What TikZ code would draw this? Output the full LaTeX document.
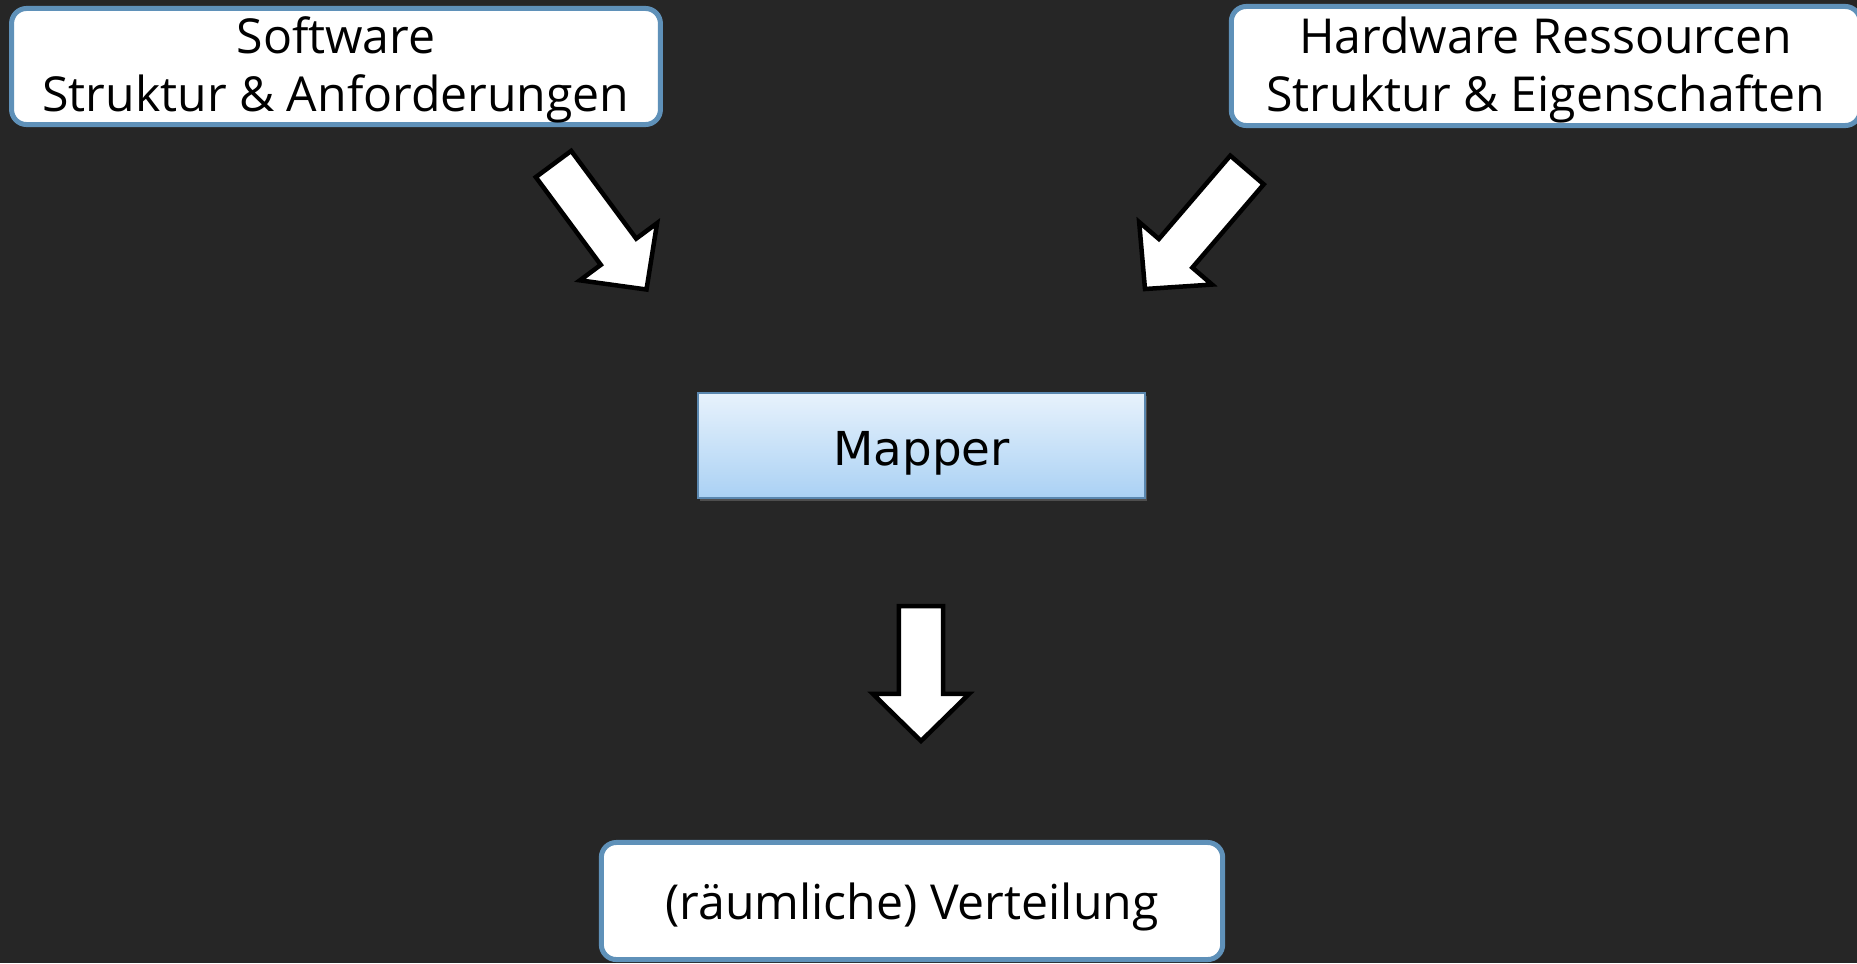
\documentclass[tikz,border=0pt]{standalone}
\usepackage{fontspec}
\newfontfamily\boxfont{Open Sans}
\newfontfamily\mapfont{DejaVu Sans}
\usetikzlibrary{calc,shadows}

\definecolor{bg}{RGB}{38,38,38}
\definecolor{frame}{RGB}{95,145,185}
\definecolor{maptop}{RGB}{231,242,252}
\definecolor{mapbot}{RGB}{170,209,244}
\definecolor{mapline}{RGB}{90,135,175}

\tikzset{
  infobox/.style={draw=frame, fill=white, line width=0.05cm, rounded corners=0.15cm,
    inner sep=0pt, text=black, text depth=0pt,
    font=\boxfont\fontsize{13.7}{16.6}\selectfont},
  mapperbox/.style={draw=mapline, line width=0.02cm, top color=maptop, bottom color=mapbot,
    inner sep=0pt, text=black, text depth=0pt, font=\mapfont\fontsize{13.3}{15}\selectfont,
    drop shadow={shadow xshift=0.02cm, shadow yshift=-0.025cm, opacity=0.45}},
  fatarrow/.style={draw=black, fill=white, line width=0.045cm, line join=miter},
}

% two centred lines, baseline at the last line
\newcommand\twolines[2]{\begin{tabular}[b]{@{}c@{}}#1\\#2\end{tabular}}

% white block arrow from a tail coordinate to a tip coordinate
\newcommand\blockarrow[2]{%
  \path ($(#2)!0.47cm!(#1)$) coordinate (neck);
  \draw[fatarrow]
    ($(#1)!0.22cm!90:(#2)$) --
    ($(neck)!0.22cm!-90:(#1)$) --
    ($(neck)!0.48cm!-90:(#1)$) --
    (#2) --
    ($(neck)!0.48cm!90:(#1)$) --
    ($(neck)!0.22cm!90:(#1)$) --
    ($(#1)!0.22cm!-90:(#2)$) -- cycle;
}

\begin{document}
\begin{tikzpicture}[x=0.01cm, y=-0.01cm]
  \path[use as bounding box, fill=bg] (0,0) rectangle (1857,963);
  \clip (0,0) rectangle (1857,963);

  \node[infobox, minimum width=6.485cm, minimum height=1.16cm, text height=0.904cm]
    (sw) at (336,66.5) {\twolines{Software}{Struktur \& Anforderungen}};
  \node[infobox, minimum width=6.285cm, minimum height=1.19cm, text height=0.914cm]
    (hw) at (1545.75,66) {\twolines{Hardware Ressourcen}{Struktur \& Eigenschaften}};
  \node[mapperbox, minimum width=4.47cm, minimum height=1.045cm, text height=0.385cm]
    (map) at (921.5,445.75) {Mapper};
  \node[infobox, minimum width=6.21cm, minimum height=1.17cm, text height=0.37cm]
    (dist) at (912,901) {(räumliche) Verteilung};

  \coordinate (swtail) at (553.5,164);
  \coordinate (swtip) at (646.5,289.5);
  \coordinate (hwtail) at (1247,170);
  \coordinate (hwtip) at (1145,289);
  \coordinate (maptail) at (921,606);
  \coordinate (maptip) at (921,741);

  \blockarrow{swtail}{swtip}
  \blockarrow{hwtail}{hwtip}
  \blockarrow{maptail}{maptip}
\end{tikzpicture}
\end{document}
